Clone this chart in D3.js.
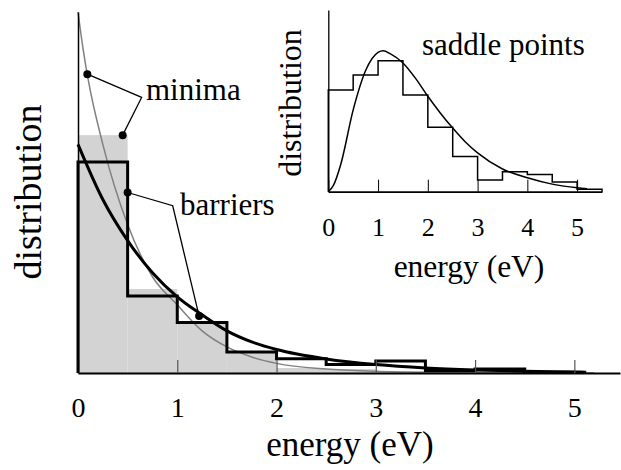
<!DOCTYPE html>
<html>
<head>
<meta charset="utf-8">
<script src="https://cdn.jsdelivr.net/npm/d3@7"></script>
<style>
  body { margin: 0; background: #fff; }
  text { font-family: 'Liberation Serif', 'Times New Roman', serif; fill: #000; }
</style>
</head>
<body>
<script>
let w = 621;
let h = 470;

// histogram bins (eV), width 0.5
let binStarts = [0, 0.5, 1, 1.5, 2, 2.5, 3, 3.5, 4, 4.5];
let minimaHist = [1.186, 0.419, 0.25, 0.104, 0.025, 0.02, 0.008, 0.004, 0.002, 0.001];
let barrierHist = [1.052, 0.384, 0.252, 0.105, 0.071, 0.042, 0.06, 0.012, 0.02, 0.0035];

// fitted curves
let minimaCurveE = [0, 0.05, 0.1, 0.25, 0.5, 0.75, 1, 1.25, 1.5, 1.75, 2, 2.5, 3, 3.5, 4, 5.2];
let minimaCurveV = [1.8, 1.62, 1.47, 1.14, 0.74, 0.48, 0.34, 0.21, 0.13, 0.08, 0.048, 0.02, 0.009, 0.004, 0.002, 0];
let barrierCurveE = [0, 0.25, 0.5, 0.75, 1, 1.25, 1.5, 1.75, 2, 2.5, 3, 3.5, 4, 4.5, 5, 5.12];
let barrierCurveV = [1.14, 0.865, 0.66, 0.5, 0.38, 0.29, 0.21, 0.155, 0.117, 0.07, 0.042, 0.025, 0.015, 0.009, 0.005, 0.004];

// inset: saddle points
let saddleBinStarts = [0, 0.5, 1, 1.5, 2, 2.5, 3, 3.5, 4, 4.5, 5];
let saddleHist = [0.336, 0.385, 0.432, 0.319, 0.213, 0.116, 0.039, 0.066, 0.057, 0.032, 0.008];
let saddleCurveE = [0, 0.1, 0.25, 0.5, 0.75, 1, 1.1, 1.25, 1.5, 1.75, 2, 2.25, 2.5, 2.75, 3, 3.5, 4, 4.5, 5, 5.2];
let saddleCurveV = [0, 0.02, 0.09, 0.27, 0.4, 0.46, 0.465, 0.455, 0.425, 0.375, 0.315, 0.26, 0.21, 0.165, 0.128, 0.075, 0.046, 0.025, 0.013, 0.01];

let ticks = [0, 1, 2, 3, 4, 5];
let binW = 0.5;

let svg = d3.select('body')
  .append('svg')
  .attr('width', w)
  .attr('height', h);

// ---- main chart ----
let xScale = d3.scaleLinear().domain([0, 5.46]).range([78, 620]);
let yScale = d3.scaleLinear().domain([0, 1.8]).range([373, 12]);

svg.selectAll('rect.minima')
  .data(minimaHist)
  .enter()
  .append('rect')
  .attr('class', 'minima')
  .attr('x', (d, i) => xScale(binStarts[i]))
  .attr('width', (d, i) => xScale(binStarts[i] + binW) - xScale(binStarts[i]))
  .attr('y', (d) => yScale(d))
  .attr('height', (d) => yScale(0) - yScale(d))
  .attr('fill', '#d3d3d3');

let line = d3.line()
  .x((d) => xScale(d[0]))
  .y((d) => yScale(d[1]))
  .curve(d3.curveMonotoneX);

svg.append('path')
  .datum(minimaCurveE.map((e, i) => [e, minimaCurveV[i]]))
  .attr('d', line)
  .attr('fill', 'none')
  .attr('stroke', '#808080')
  .attr('stroke-width', 1.5);

function stepPoints(starts, vals) {
  let pts = [[starts[0], 0]];
  vals.forEach((v, i) => {
    pts.push([starts[i], v]);
    pts.push([starts[i] + binW, v]);
  });
  pts.push([starts[starts.length - 1] + binW, 0]);
  return pts;
}

let stepLine = d3.line()
  .x((d) => xScale(d[0]))
  .y((d) => yScale(d[1]));

svg.append('path')
  .datum(stepPoints(binStarts, barrierHist))
  .attr('d', stepLine)
  .attr('fill', 'none')
  .attr('stroke', '#000')
  .attr('stroke-width', 3)
  .attr('stroke-linejoin', 'miter');

svg.append('path')
  .datum(barrierCurveE.map((e, i) => [e, barrierCurveV[i]]))
  .attr('d', line)
  .attr('fill', 'none')
  .attr('stroke', '#000')
  .attr('stroke-width', 3);

let xAxis = d3.axisBottom(xScale)
  .tickValues(ticks)
  .tickSizeInner(-13)
  .tickSizeOuter(0)
  .tickFormat(d3.format('d'));

let gx = svg.append('g')
  .attr('transform', 'translate(0,' + yScale(0) + ')')
  .call(xAxis);
gx.select('.domain').attr('stroke', '#000').attr('stroke-width', 2);
gx.selectAll('.tick line').attr('stroke', '#555').attr('stroke-width', 1.2);
gx.selectAll('.tick text')
  .attr('y', 44)
  .attr('dy', null)
  .attr('font-size', 28)
  .attr('font-family', null)
  .attr('fill', '#000');

let yAxis = d3.axisLeft(yScale).tickValues([]).tickSizeOuter(0);
let gy = svg.append('g')
  .attr('transform', 'translate(' + xScale(0) + ',0)')
  .call(yAxis);
gy.select('.domain').attr('stroke', '#000').attr('stroke-width', 1.5);

svg.append('text')
  .attr('transform', 'translate(41,192) rotate(-90)')
  .attr('text-anchor', 'middle')
  .attr('font-size', 38)
  .text('distribution');

svg.append('text')
  .attr('x', 350)
  .attr('y', 456)
  .attr('text-anchor', 'middle')
  .attr('font-size', 35)
  .text('energy (eV)');

// callouts
let callouts = [
  { label: 'minima', tx: 146, ty: 100, pts: [[0.094, 1.49], [0.641, 1.374], [0.45, 1.186]] },
  { label: 'barriers', tx: 180, ty: 215, pts: [[0.5, 0.9], [0.954, 0.834], [1.22, 0.284]] }
];

callouts.forEach((c) => {
  svg.append('path')
    .datum(c.pts)
    .attr('d', stepLine)
    .attr('fill', 'none')
    .attr('stroke', '#000')
    .attr('stroke-width', 1.3);
  svg.selectAll(null)
    .data([c.pts[0], c.pts[2]])
    .enter()
    .append('circle')
    .attr('cx', (d) => xScale(d[0]))
    .attr('cy', (d) => yScale(d[1]))
    .attr('r', 4)
    .attr('fill', '#000');
  svg.append('text')
    .attr('x', c.tx)
    .attr('y', c.ty)
    .attr('font-size', 31)
    .text(c.label);
});

// ---- inset ----
let ixScale = d3.scaleLinear().domain([0, 5.5]).range([328.3, 602]);
let iyScale = d3.scaleLinear().domain([0, 0.6]).range([191.7, 9.9]);

let iStep = d3.line()
  .x((d) => ixScale(d[0]))
  .y((d) => iyScale(d[1]));
let iCurve = d3.line()
  .x((d) => ixScale(d[0]))
  .y((d) => iyScale(d[1]))
  .curve(d3.curveMonotoneX);

svg.append('path')
  .datum(stepPoints(saddleBinStarts, saddleHist))
  .attr('d', iStep)
  .attr('fill', 'none')
  .attr('stroke', '#000')
  .attr('stroke-width', 1.5);

svg.append('path')
  .datum(saddleCurveE.map((e, i) => [e, saddleCurveV[i]]))
  .attr('d', iCurve)
  .attr('fill', 'none')
  .attr('stroke', '#000')
  .attr('stroke-width', 1.5);

let ixAxis = d3.axisBottom(ixScale)
  .tickValues(ticks)
  .tickSizeInner(-12)
  .tickSizeOuter(0)
  .tickFormat(d3.format('d'));

let igx = svg.append('g')
  .attr('transform', 'translate(0,' + iyScale(0) + ')')
  .call(ixAxis);
igx.select('.domain').attr('stroke', '#000').attr('stroke-width', 1.8);
igx.selectAll('.tick line').attr('stroke', '#000').attr('stroke-width', 1);
igx.selectAll('.tick text')
  .attr('y', 44)
  .attr('dy', null)
  .attr('font-size', 26)
  .attr('font-family', null)
  .attr('fill', '#000');

let iyAxis = d3.axisLeft(iyScale).tickValues([]).tickSizeOuter(0);
let igy = svg.append('g')
  .attr('transform', 'translate(' + ixScale(0) + ',0)')
  .call(iyAxis);
igy.select('.domain').attr('stroke', '#000').attr('stroke-width', 1.3);

svg.append('text')
  .attr('transform', 'translate(301,103) rotate(-90)')
  .attr('text-anchor', 'middle')
  .attr('font-size', 32)
  .text('distribution');

svg.append('text')
  .attr('x', 469)
  .attr('y', 277)
  .attr('text-anchor', 'middle')
  .attr('font-size', 31.5)
  .text('energy (eV)');

svg.append('text')
  .attr('x', 422)
  .attr('y', 55)
  .attr('font-size', 31)
  .text('saddle points');
</script>
</body>
</html>
